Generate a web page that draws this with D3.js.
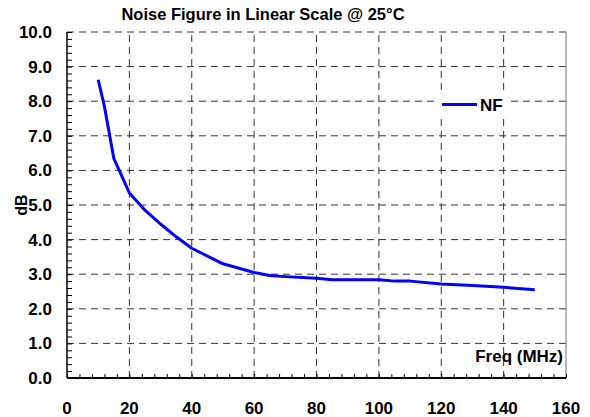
<!DOCTYPE html>
<html>
<head>
<meta charset="utf-8">
<script src="https://cdn.jsdelivr.net/npm/d3@7"></script>
<style>
  body { margin: 0; background: #fff; }
  text { font-family: Arial, 'Liberation Sans', sans-serif; font-weight: bold; }
</style>
</head>
<body>
<svg id="chart" width="590" height="417"></svg>
<script>
const freq = [10, 12, 15, 20, 25, 30, 35, 40, 50, 60, 65, 70, 80, 85, 100, 105, 110, 120, 130, 140, 150]
const nf = [8.62, 7.85, 6.35, 5.35, 4.85, 4.45, 4.08, 3.75, 3.3, 3.05, 2.96, 2.93, 2.88, 2.84, 2.84, 2.8, 2.8, 2.72, 2.67, 2.62, 2.55]
const xTicks = [0, 20, 40, 60, 80, 100, 120, 140, 160]
const yTicks = [0, 1, 2, 3, 4, 5, 6, 7, 8, 9, 10]

const svg = d3.select('#chart')
const x = d3.scaleLinear().domain([0, 160]).range([67, 566])
const y = d3.scaleLinear().domain([0, 10]).range([378, 32])

// grid
svg.append('g').selectAll('line')
  .data(yTicks.filter(d => d > 0))
  .enter().append('line')
  .attr('x1', x(0)).attr('x2', x(160))
  .attr('y1', d => y(d)).attr('y2', d => y(d))
  .attr('stroke', '#333').attr('stroke-dasharray', '7,5')
svg.append('g').selectAll('line')
  .data(xTicks.filter(d => d > 0 && d < 160))
  .enter().append('line')
  .attr('x1', d => x(d)).attr('x2', d => x(d))
  .attr('y1', y(0)).attr('y2', y(10))
  .attr('stroke', '#333').attr('stroke-dasharray', '7,5')

// right border
svg.append('line')
  .attr('x1', x(160)).attr('x2', x(160)).attr('y1', y(0)).attr('y2', y(10))
  .attr('stroke', '#888').attr('stroke-width', 1.2)

// axes with inward minor ticks
const yAxis = d3.axisRight(y).tickValues(d3.range(0, 10.01, 0.2)).tickSize(5).tickFormat('')
const ya = svg.append('g').attr('transform', `translate(${x(0)},0)`).call(yAxis)
ya.select('.domain').remove()
ya.selectAll('line').attr('stroke', '#000')
svg.append('line').attr('x1', x(0)).attr('x2', x(0)).attr('y1', y(0)).attr('y2', y(10))
  .attr('stroke', '#000').attr('stroke-width', 1.5)

const xAxis = d3.axisTop(x).tickValues(d3.range(0, 160.1, 4)).tickSize(4).tickFormat('')
const xa = svg.append('g').attr('transform', `translate(0,${y(0)})`).call(xAxis)
xa.select('.domain').remove()
xa.selectAll('line').attr('stroke', '#000')
svg.append('line').attr('x1', x(0)).attr('x2', x(160)).attr('y1', y(0)).attr('y2', y(0))
  .attr('stroke', '#000').attr('stroke-width', 2)

// tick labels
svg.append('g').selectAll('text')
  .data(yTicks).enter().append('text')
  .attr('x', 52).attr('y', d => y(d) + 6)
  .attr('text-anchor', 'end').attr('font-size', 17)
  .text(d => d.toFixed(1))
svg.append('g').selectAll('text')
  .data(xTicks).enter().append('text')
  .attr('x', d => x(d)).attr('y', 414)
  .attr('text-anchor', 'middle').attr('font-size', 17)
  .text(d => d)

// titles
svg.append('text').attr('x', 263).attr('y', 20).attr('text-anchor', 'middle')
  .attr('font-size', 16.5).text('Noise Figure in Linear Scale @ 25°C')
svg.append('text').attr('transform', 'translate(27,205) rotate(-90)')
  .attr('text-anchor', 'middle').attr('font-size', 16).text('dB')
svg.append('text').attr('x', 563).attr('y', 362).attr('text-anchor', 'end')
  .attr('font-size', 17).text('Freq (MHz)')

// series
const line = d3.line().x((d, i) => x(freq[i])).y(d => y(d))
svg.append('path').datum(nf)
  .attr('d', line).attr('fill', 'none')
  .attr('stroke', '#0000ff').attr('stroke-width', 3)
  .attr('stroke-linejoin', 'round')

// legend
const lg = svg.append('g')
lg.append('rect').attr('x', 436).attr('y', 92).attr('width', 73).attr('height', 25).attr('fill', '#fff')
lg.append('line').attr('x1', 442).attr('x2', 477).attr('y1', 104.5).attr('y2', 104.5)
  .attr('stroke', '#0000ff').attr('stroke-width', 3)
lg.append('text').attr('x', 480).attr('y', 110.5).attr('font-size', 17).text('NF')
</script>
</body>
</html>
